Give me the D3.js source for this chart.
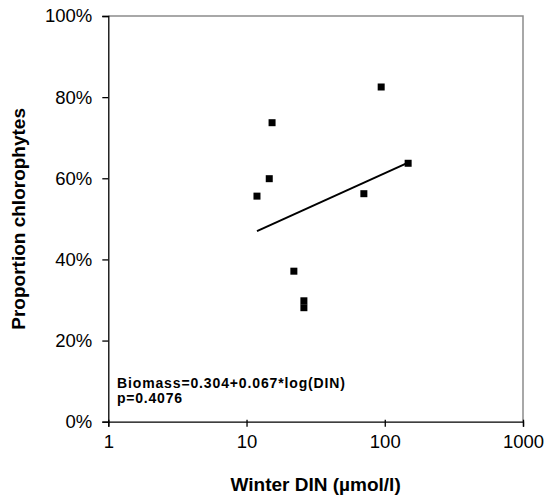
<!DOCTYPE html>
<html><head><meta charset="utf-8">
<script src="https://cdn.jsdelivr.net/npm/d3@7"></script>
<style>body{margin:0;background:#fff}svg{display:block}text{font-family:"Liberation Sans",Arial,sans-serif}</style>
</head><body><svg id="c" width="546" height="498"></svg>
<script>
const dinValues = [94.2, 15.3, 147.6, 14.6, 11.9, 70.6, 22.0, 26.0, 26.0];
const chloroValues = [0.825, 0.737, 0.637, 0.599, 0.556, 0.562, 0.371, 0.298, 0.281];
const xTickValues = [1, 10, 100, 1000];
const yTickValues = [0, 0.2, 0.4, 0.6, 0.8, 1.0];
const fitIntercept = 0.304, fitSlope = 0.067;
const annotationLines = ["Biomass=0.304+0.067*log(DIN)", "p=0.4076"];
const xTitle = "Winter DIN (µmol/l)";
const yTitle = "Proportion chlorophytes";

const svg = d3.select("#c");
const L = 108.3, R = 523, T = 16, B = 421.7;
const x = d3.scaleLog().domain([1, 1000]).range([L, R]);
const y = d3.scaleLinear().domain([0, 1]).range([B, T]);

// frame (top/right grey)
svg.append("path").attr("d", `M${L},${T}H${R}V${B}`).attr("fill","none").attr("stroke","#8c8c8c").attr("stroke-width",1.5);

// y axis
const ya = svg.append("g").attr("transform",`translate(${L},0)`)
  .call(d3.axisLeft(y).tickValues(yTickValues).tickFormat(d3.format(".0%")).tickSize(6).tickPadding(10));
ya.select(".domain").attr("stroke","#000").attr("stroke-width",1.3);
ya.selectAll(".tick line").attr("stroke","#000").attr("stroke-width",1.3);
ya.selectAll("text").attr("font-size","18.5px").attr("fill","#000");

// x axis
const xa = svg.append("g").attr("transform",`translate(0,${B})`)
  .call(d3.axisBottom(x).tickValues(xTickValues).tickFormat(d3.format("d")).tickSizeOuter(0).tickSize(5).tickPadding(8));
xa.select(".domain").attr("stroke","#000").attr("stroke-width",1.3);
xa.selectAll(".tick line").attr("stroke","#000").attr("stroke-width",1.3).attr("y1",-2);
xa.selectAll("text").attr("font-size","18.5px").attr("fill","#000");

// regression line
const xmin = d3.min(dinValues), xmax = d3.max(dinValues);
const fitPts = [xmin, xmax].map(v => [x(v), y(fitIntercept + fitSlope*Math.log(v))]);
svg.append("path").attr("d", d3.line()(fitPts)).attr("stroke","#000").attr("stroke-width",2).attr("fill","none");

// points
const s = 7;
svg.selectAll("rect.pt").data(dinValues).join("rect").attr("class","pt")
  .attr("x",(d)=>x(d)-s/2).attr("y",(d,i)=>y(chloroValues[i])-s/2)
  .attr("width",s).attr("height",s).attr("fill","#000");

// annotation
svg.append("text").attr("x",117).attr("y",387.5).attr("font-size","14px").attr("font-weight","bold")
  .attr("textLength",228).attr("lengthAdjust","spacing").text(annotationLines[0]);
svg.append("text").attr("x",117).attr("y",402.5).attr("font-size","14px").attr("font-weight","bold")
  .attr("textLength",65).attr("lengthAdjust","spacing").text(annotationLines[1]);

// titles
svg.append("text").attr("x",(L+R)/2).attr("y",491).attr("text-anchor","middle").attr("font-size","19px").attr("font-weight","bold").text(xTitle);
svg.append("text").attr("transform",`translate(25,${(T+B)/2}) rotate(-90)`).attr("text-anchor","middle").attr("font-size","19px").attr("font-weight","bold").text(yTitle);
</script></body></html>
